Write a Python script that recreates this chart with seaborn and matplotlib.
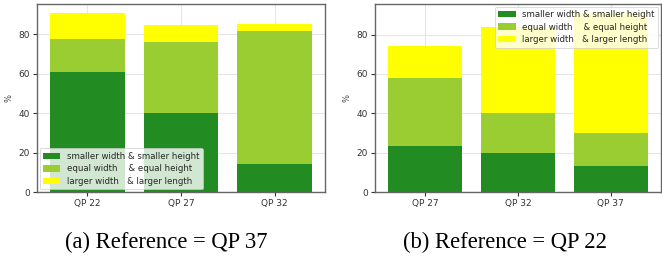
import matplotlib
matplotlib.use("Agg")
import matplotlib.pyplot as plt
import seaborn as sns
import numpy as np
import pandas as pd
from matplotlib.patches import Patch

# ---- data ----
cats_a = ["QP 22", "QP 27", "QP 32"]
smaller_a = [61.0, 40.0, 14.2]
equal_a = [16.6, 36.3, 67.2]
larger_a = [13.2, 8.4, 4.0]

cats_b = ["QP 27", "QP 32", "QP 37"]
smaller_b = [23.6, 19.7, 13.2]
equal_b = [34.2, 20.6, 16.6]
larger_b = [16.4, 43.8, 61.2]

labels = ["smaller width & smaller height",
          "equal width    & equal height",
          "larger width   & larger length"]
colors = ["#228B22", "#9ACD32", "#FFFF00"]
captions = ["(a) Reference = QP 37", "(b) Reference = QP 22"]

sns.set_style("whitegrid", {"grid.color": "#e6e6e6", "axes.edgecolor": "#555555"})
plt.rcParams["font.family"] = ["DejaVu Sans"]

fig = plt.figure(figsize=(6.62, 2.6), dpi=100)
ax_a = fig.add_axes([37 / 662, 68 / 260, 288 / 662, 188 / 260])
ax_b = fig.add_axes([375 / 662, 68 / 260, 286 / 662, 188 / 260])


def draw(ax, cats, s, e, l, loc):
    s = np.array(s); e = np.array(e); l = np.array(l)
    layers = [s + e + l, s + e, s]
    for vals, col in zip(layers, colors[::-1]):
        df = pd.DataFrame({"cat": cats, "val": vals})
        sns.barplot(data=df, x="cat", y="val", color=col, saturation=1,
                    width=0.8, ax=ax, linewidth=0, errorbar=None)
    ax.set_xlabel("")
    ax.set_ylabel("%", fontsize=6, color="#444444")
    ax.set_axisbelow(True)
    ax.grid(True, color="#e6e6e6", linewidth=0.8)
    ax.set_xlim(-0.54, 2.54)
    top = float((s + e + l).max()) * 1.05
    ax.set_ylim(0, top)
    ax.set_yticks([0, 20, 40, 60, 80])
    ax.tick_params(axis="both", labelsize=6.5, colors="#333333", length=3,
                   width=0.8, direction="out", left=True, bottom=True, pad=2)
    for sp in ax.spines.values():
        sp.set_visible(True)
        sp.set_color("#666666")
        sp.set_linewidth(1.0)
    handles = [Patch(facecolor=c, edgecolor="none") for c in colors]
    leg = ax.legend(handles, labels, loc=loc,
                    fontsize=6.2, framealpha=0.8, handlelength=2.0,
                    handleheight=0.75, labelspacing=0.42, borderpad=0.4,
                    handletextpad=0.8, borderaxespad=0.3)
    leg.get_frame().set_edgecolor("#cccccc")
    leg.get_frame().set_linewidth(0.6)


draw(ax_a, cats_a, smaller_a, equal_a, larger_a, "lower left")
draw(ax_b, cats_b, smaller_b, equal_b, larger_b, "upper right")

fig.text(166.5 / 662, 1 - 248 / 260, captions[0], ha="center", va="baseline",
         fontsize=16.3, family="Liberation Serif", color="black")
fig.text(505 / 662, 1 - 248 / 260, captions[1], ha="center", va="baseline",
         fontsize=16.3, family="Liberation Serif", color="black")

fig.savefig("out.png", dpi=100)
